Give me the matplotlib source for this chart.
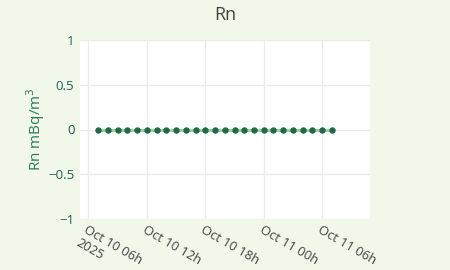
import matplotlib
matplotlib.use("Agg")
import matplotlib.pyplot as plt
import numpy as np
import pandas as pd

times = pd.date_range("2025-10-10 07:00", "2025-10-11 07:00", freq="1h")
values = [0.0] * len(times)
tick_times = pd.to_datetime(["2025-10-10 06:00", "2025-10-10 12:00", "2025-10-10 18:00",
                             "2025-10-11 00:00", "2025-10-11 06:00"])
tick_labels = ["Oct 10 06h", "Oct 10 12h", "Oct 10 18h", "Oct 11 00h", "Oct 11 06h"]
year_label = "2025"
y_ticks = [-1, -0.5, 0, 0.5, 1]
y_labels = ["\u22121", "\u22120.5", "0", "0.5", "1"]

plt.rcParams['font.family'] = ['Open Sans', 'DejaVu Sans']
bg = "#f1f7e9"
fig = plt.figure(figsize=(4.5, 2.7), dpi=100, facecolor=bg)
ax = fig.add_axes([80/450, 1-219/270, 290/450, 179/270])
ax.set_facecolor("white")

ax.plot(times, values, color="#9dcc8a", linewidth=2.0, zorder=2)
ax.plot(times, values, linestyle="none", marker="o", markersize=3.6,
        color="#1d6b4c", zorder=3)

ax.set_xlim(pd.Timestamp("2025-10-10 05:09"), pd.Timestamp("2025-10-11 10:54"))
ax.set_ylim(-1, 1)
ax.set_xticks(tick_times)
ax.set_xticklabels(tick_labels, rotation=-30, ha="left", rotation_mode="anchor",
                   color="#444444", fontsize=9.3)
ax.annotate(year_label, xy=(tick_times[0], 0), xycoords=("data", "axes fraction"),
            xytext=(-6, -3 - 9.5), textcoords="offset points",
            rotation=-30, ha="left", va="top", rotation_mode="anchor",
            color="#444444", fontsize=9.3, annotation_clip=False)
ax.set_yticks(y_ticks)
ax.set_yticklabels(y_labels, color="#1f5f5a", fontsize=9.5)
ax.tick_params(axis="both", length=0, pad=4)
ax.tick_params(axis="x", pad=3)
ax.grid(True, color="#ebebeb", linewidth=1)
ax.set_axisbelow(True)
for s in ax.spines.values():
    s.set_visible(False)

ax.set_ylabel("Rn mBq/m$^3$", color="#2a7a5a", fontsize=11, labelpad=1)
fig.text(0.5, 1-15/270, "Rn", ha="center", va="center", fontsize=13, color="#444444")

fig.savefig("out.png", dpi=100, facecolor=bg)
